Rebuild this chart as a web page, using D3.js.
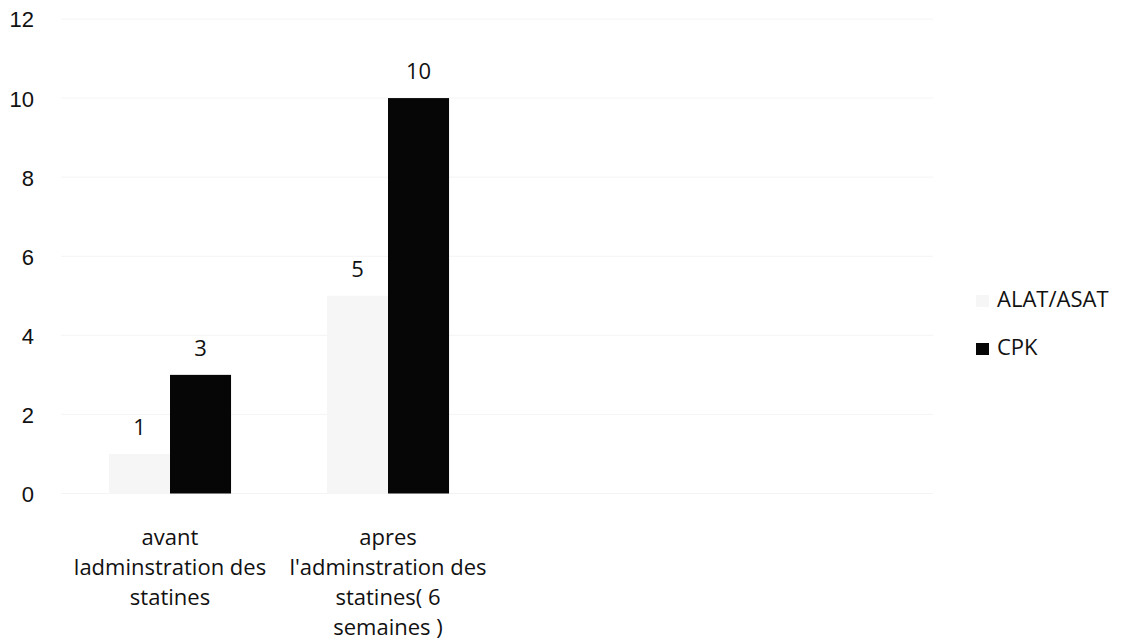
<!DOCTYPE html>
<html>
<head>
<meta charset="utf-8">
<script src="https://cdn.jsdelivr.net/npm/d3@7"></script>
<style>
  body { margin: 0; background: #fff; }
  svg { display: block; font-family: "Open Sans", sans-serif; }
  .tick text { font-size: 22px; fill: #111; }
</style>
</head>
<body>
<script>
// chart data
let categoryLines = [
    ['avant', 'ladminstration des', 'statines'],
    ['apres', "l'adminstration des", 'statines( 6', 'semaines )']
];
let seriesNames = ['ALAT/ASAT', 'CPK'];
let alatValues = [1, 5];
let cpkValues = [3, 10];
let yTicks = [0, 2, 4, 6, 8, 10, 12];
// the plot keeps room for 4 slots, only the first two are filled
let slotCount = 4;

// ALAT/ASAT is washed out almost to white in the scan
let colors = ['#f6f6f6', '#060606'];

let width = 1125, height = 640;
let svg = d3.select('body').append('svg')
    .attr('width', width)
    .attr('height', height);

let plot = {left: 61, right: 933, top: 19, bottom: 493.5};

let x0 = d3.scaleBand()
    .domain(d3.range(slotCount))
    .range([plot.left, plot.right])
    .paddingInner(0.44)
    .paddingOuter(0.22);

let x1 = d3.scaleBand()
    .domain(seriesNames)
    .range([0, x0.bandwidth()]);

let y = d3.scaleLinear()
    .domain([0, 12])
    .range([plot.bottom, plot.top]);

// very faint gridlines
svg.append('g').attr('class', 'grid')
    .selectAll('line').data(yTicks).enter().append('line')
    .attr('x1', plot.left)
    .attr('x2', plot.right)
    .attr('y1', d => y(d))
    .attr('y2', d => y(d))
    .style('stroke', '#f4f4f4')
    .style('stroke-width', 1);

// y axis labels only
let yAxis = svg.append('g')
    .attr('transform', 'translate(34,0)')
    .call(d3.axisLeft(y).tickValues(yTicks).tickSize(0).tickPadding(0));
yAxis.select('.domain').remove();
yAxis.selectAll('.tick text').attr('dy', '0.36em');

// bars
let rows = categoryLines.map((c, i) => ({
    i,
    values: [
        {name: seriesNames[0], value: alatValues[i]},
        {name: seriesNames[1], value: cpkValues[i]}
    ]
}));

let groups = svg.append('g').selectAll('.group').data(rows).enter().append('g')
    .attr('class', 'group')
    .attr('transform', d => 'translate(' + x0(d.i) + ',0)');

groups.selectAll('rect').data(d => d.values).enter().append('rect')
    .attr('x', d => x1(d.name))
    .attr('y', d => y(d.value))
    .attr('width', x1.bandwidth())
    .attr('height', d => y(0) - y(d.value))
    .style('fill', (d, i) => colors[i]);

groups.selectAll('.val').data(d => d.values).enter().append('text')
    .attr('class', 'val')
    .attr('x', d => x1(d.name) + x1.bandwidth() / 2)
    .attr('y', d => y(d.value) - 19)
    .attr('text-anchor', 'middle')
    .style('font-size', '22px')
    .style('fill', '#111')
    .text(d => d.value);

// category labels, one tspan per line
svg.append('g').selectAll('.cat').data(categoryLines).enter().append('text')
    .attr('class', 'cat')
    .attr('text-anchor', 'middle')
    .style('font-size', '22px')
    .style('fill', '#111')
    .each(function (lines, i) {
        let cx = x0(i) + x0.bandwidth() / 2;
        d3.select(this).selectAll('tspan').data(lines).enter().append('tspan')
            .attr('x', cx)
            .attr('y', (d, j) => 545 + j * 30)
            .text(d => d);
    });

// legend
let legend = svg.append('g').attr('transform', 'translate(976,0)');
let items = legend.selectAll('.item').data(seriesNames).enter().append('g')
    .attr('class', 'item')
    .attr('transform', (d, i) => 'translate(0,' + (307 + i * 48) + ')');
items.append('rect')
    .attr('x', 0)
    .attr('y', -12)
    .attr('width', 13)
    .attr('height', 12)
    .style('fill', (d, i) => colors[i]);
items.append('text')
    .attr('x', 21)
    .attr('y', 0)
    .style('font-size', '22px')
    .style('fill', '#111')
    .text(d => d);
</script>
</body>
</html>
